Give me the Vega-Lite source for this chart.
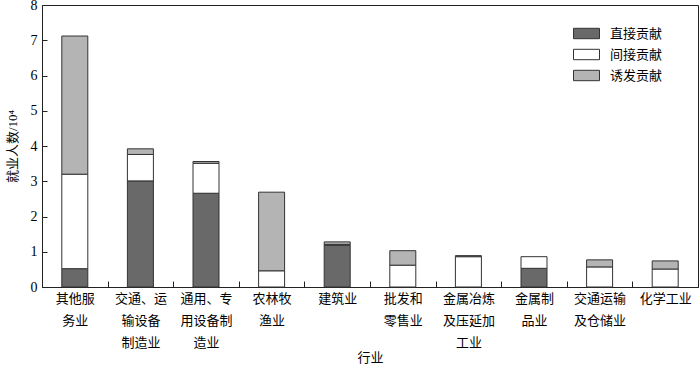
{
  "$schema": "https://vega.github.io/schema/vega-lite/v6.json",
  "width": 656,
  "height": 282,
  "autosize": "none",
  "padding": {"left": 42, "top": 5, "right": 2, "bottom": 79},
  "background": "white",
  "config": {
    "font": "Liberation Serif, Noto Sans CJK SC",
    "view": {"stroke": "#222", "strokeWidth": 1}
  },
  "data": {
    "values": [
      {"ind": "其他服|务业", "type": "直接贡献", "o": 1, "v": 0.52},
      {"ind": "其他服|务业", "type": "间接贡献", "o": 2, "v": 2.68},
      {"ind": "其他服|务业", "type": "诱发贡献", "o": 3, "v": 3.92},
      {"ind": "交通、运|输设备|制造业", "type": "直接贡献", "o": 1, "v": 3.01},
      {"ind": "交通、运|输设备|制造业", "type": "间接贡献", "o": 2, "v": 0.75},
      {"ind": "交通、运|输设备|制造业", "type": "诱发贡献", "o": 3, "v": 0.16},
      {"ind": "通用、专|用设备制|造业", "type": "直接贡献", "o": 1, "v": 2.66},
      {"ind": "通用、专|用设备制|造业", "type": "间接贡献", "o": 2, "v": 0.85},
      {"ind": "通用、专|用设备制|造业", "type": "诱发贡献", "o": 3, "v": 0.05},
      {"ind": "农林牧|渔业", "type": "间接贡献", "o": 2, "v": 0.46},
      {"ind": "农林牧|渔业", "type": "诱发贡献", "o": 3, "v": 2.23},
      {"ind": "建筑业", "type": "直接贡献", "o": 1, "v": 1.18},
      {"ind": "建筑业", "type": "间接贡献", "o": 2, "v": 0.03},
      {"ind": "建筑业", "type": "诱发贡献", "o": 3, "v": 0.07},
      {"ind": "批发和|零售业", "type": "间接贡献", "o": 2, "v": 0.62},
      {"ind": "批发和|零售业", "type": "诱发贡献", "o": 3, "v": 0.41},
      {"ind": "金属冶炼|及压延加|工业", "type": "间接贡献", "o": 2, "v": 0.86},
      {"ind": "金属冶炼|及压延加|工业", "type": "诱发贡献", "o": 3, "v": 0.03},
      {"ind": "金属制|品业", "type": "直接贡献", "o": 1, "v": 0.53},
      {"ind": "金属制|品业", "type": "间接贡献", "o": 2, "v": 0.33},
      {"ind": "交通运输|及仓储业", "type": "间接贡献", "o": 2, "v": 0.57},
      {"ind": "交通运输|及仓储业", "type": "诱发贡献", "o": 3, "v": 0.2},
      {"ind": "化学工业", "type": "间接贡献", "o": 2, "v": 0.51},
      {"ind": "化学工业", "type": "诱发贡献", "o": 3, "v": 0.23}
    ]
  },
  "mark": {"type": "bar", "stroke": "#333", "strokeWidth": 1, "width": 26},
  "encoding": {
    "x": {
      "field": "ind",
      "type": "nominal",
      "sort": null,
      "scale": {"paddingInner": 0, "paddingOuter": 0},
      "axis": {
        "title": "行业",
        "titleFontSize": 13,
        "titleFontWeight": "normal",
        "titleColor": "#000",
        "titleY": 64,
        "labelAngle": 0,
        "labelExpr": "datum.value ? split(datum.value, '|') : ''",
        "labelFontSize": 13,
        "labelColor": "#000",
        "labelLineHeight": 22,
        "labelBaseline": "top",
        "labelPadding": 11,
        "labelLimit": 0,
        "tickBand": "extent",
        "tickSize": -6,
        "tickColor": "#222",
        "domainColor": "#222"
      }
    },
    "y": {
      "field": "v",
      "type": "quantitative",
      "stack": "zero",
      "scale": {"domain": [0, 8], "nice": false},
      "axis": {
        "title": "就业人数/10⁴",
        "titleFontSize": 13,
        "titleFontWeight": "normal",
        "titleColor": "#000",
        "titlePadding": 11,
        "values": [0, 1, 2, 3, 4, 5, 6, 7, 8],
        "labelFontSize": 14,
        "labelColor": "#000",
        "labelPadding": 10,
        "tickSize": -5,
        "tickColor": "#222",
        "domainColor": "#222",
        "grid": false
      }
    },
    "color": {
      "field": "type",
      "type": "nominal",
      "scale": {"domain": ["直接贡献", "间接贡献", "诱发贡献"], "range": ["#696969", "#ffffff", "#b4b4b4"]},
      "legend": {
        "title": null,
        "orient": "none",
        "legendX": 531,
        "legendY": 15,
        "padding": 0,
        "symbolType": "M-1,-0.4H1V0.4H-1Z",
        "symbolSize": 676,
        "symbolStrokeColor": "#333",
        "symbolStrokeWidth": 1,
        "labelFontSize": 13,
        "labelColor": "#000",
        "labelOffset": 10,
        "rowPadding": -1.5
      }
    },
    "order": {"field": "o", "type": "quantitative"}
  }
}
